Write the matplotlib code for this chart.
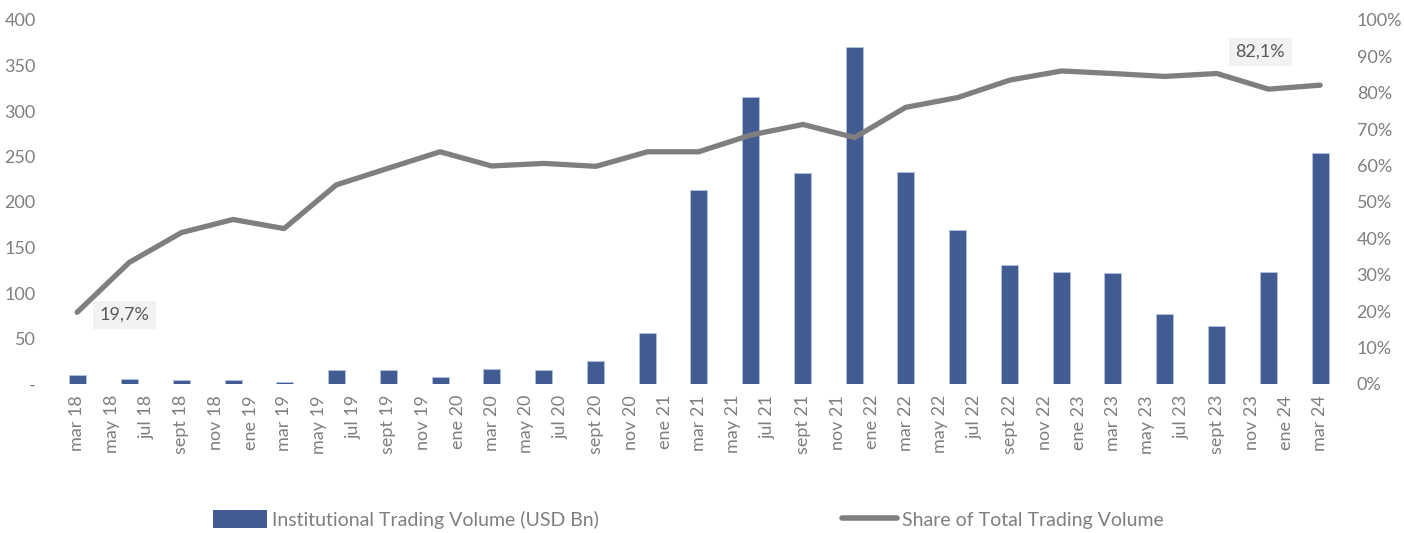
import pandas as pd
import numpy as np
import matplotlib
matplotlib.use("Agg")
import matplotlib.pyplot as plt
from matplotlib.lines import Line2D
from matplotlib.patches import Patch

plt.rcParams['font.family'] = ['Lato', 'DejaVu Sans']

# quarterly observations
quarters = ['2018-03', '2018-06', '2018-09', '2018-12',
            '2019-03', '2019-06', '2019-09', '2019-12',
            '2020-03', '2020-06', '2020-09', '2020-12',
            '2021-03', '2021-06', '2021-09', '2021-12',
            '2022-03', '2022-06', '2022-09', '2022-12',
            '2023-03', '2023-06', '2023-09', '2023-12',
            '2024-03']
volume = [10, 5.5, 4, 4, 2, 15.7, 15, 7.7,
          16.8, 15.7, 25.6, 55.7,
          213, 315, 232, 370,
          233, 169, 131, 123,
          122, 76.5, 63.4, 123,
          254]
share = [19.7, 33.4, 41.6, 45.2, 42.7, 54.7, 59.3, 63.8,
         59.9, 60.6, 59.8, 63.8,
         63.8, 68.4, 71.3, 67.7,
         76.0, 78.7, 83.5, 86.0,
         85.3, 84.5, 85.3, 81.0,
         82.1]

tick_labels = ['mar 18', 'may 18', 'jul 18', 'sept 18', 'nov 18', 'ene 19',
               'mar 19', 'may 19', 'jul 19', 'sept 19', 'nov 19', 'ene 20',
               'mar 20', 'may 20', 'jul 20', 'sept 20', 'nov 20', 'ene 21',
               'mar 21', 'may 21', 'jul 21', 'sept 21', 'nov 21', 'ene 22',
               'mar 22', 'may 22', 'jul 22', 'sept 22', 'nov 22', 'ene 23',
               'mar 23', 'may 23', 'jul 23', 'sept 23', 'nov 23', 'ene 24',
               'mar 24']

bar_color = '#435B93'
line_color = '#7F7F7F'
text_color = '#7F7F7F'
fs = 13

dates = pd.to_datetime(quarters)
tick_dates = pd.date_range('2018-03-01', '2024-03-01', freq='2MS')

fig = plt.figure(figsize=(14.04, 5.33), dpi=100)
ax = fig.add_axes([55 / 1404, 149 / 533, 1285 / 1404, 364 / 533])
ax2 = ax.twinx()

ax.bar(dates, volume, width=30, color=bar_color, edgecolor='#B4C3E0', linewidth=0.6, zorder=2)
ax2.plot(dates, share, color=line_color, lw=3.8, solid_capstyle='round', solid_joinstyle='round', zorder=3)

ax.set_xlim(dates[0] - pd.Timedelta(days=39), dates[-1] + pd.Timedelta(days=35))
ax.set_ylim(0, 400)
ax2.set_ylim(0, 100)

ax.set_yticks(np.arange(0, 401, 50))
ax.set_yticklabels(['-'] + [str(v) for v in range(50, 401, 50)])
ax2.set_yticks(np.arange(0, 101, 10))
ax2.set_yticklabels([f'{v}%' for v in range(0, 101, 10)])

ax.set_xticks(tick_dates)
ax.set_xticklabels(tick_labels, rotation=90)

for a in (ax, ax2):
    for s in a.spines.values():
        s.set_visible(False)
    a.tick_params(length=0, labelsize=fs, colors=text_color)
ax.tick_params(axis='y', pad=14)
ax2.tick_params(axis='y', pad=12)
ax.tick_params(axis='x', pad=8)
ax2.set_zorder(ax.get_zorder() + 1)
ax2.patch.set_visible(False)

# data labels for first and last points
box = dict(boxstyle='square,pad=0.35', facecolor='#F2F2F2', edgecolor='none')
ax2.annotate(f'{share[0]:.1f}%'.replace('.', ','), (dates[0], share[0]),
             xytext=(16, -2), textcoords='offset points', ha='left', va='center',
             fontsize=fs, color='#595959', bbox=box)
ax2.annotate(f'{share[-1]:.1f}%'.replace('.', ','), (dates[-1], share[-1]),
             xytext=(-43, 24), textcoords='offset points', ha='center', va='center',
             fontsize=fs, color='#595959', bbox=box)

handles = [Patch(facecolor=bar_color, edgecolor='none'),
           Line2D([0], [0], color=line_color, lw=4, solid_capstyle='round')]
names = ['Institutional Trading Volume (USD Bn)', 'Share of Total Trading Volume']
fig.legend(handles, names, loc='center left', bbox_to_anchor=(213 / 1404, 0.025), ncol=2,
           frameon=False, fontsize=14, labelcolor=text_color, columnspacing=12.5,
           handlelength=2.8, handleheight=1.0, handletextpad=0.25, borderpad=0, borderaxespad=0)

plt.savefig('out.png', dpi=100)
